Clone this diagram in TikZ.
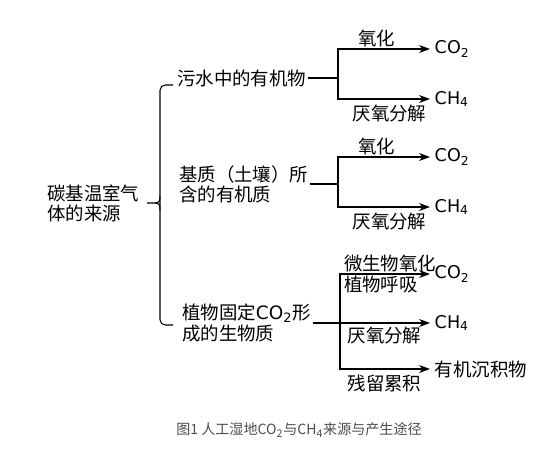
\documentclass[tikz,border=0pt]{standalone}
\usepackage{fontspec}
\setmainfont{Noto Sans CJK SC}
\newfontfamily\gasfont{DejaVu Sans}
\usetikzlibrary{arrows.meta, positioning}

\begin{document}
\begin{tikzpicture}[
        x=0.02cm, y=-0.02cm,
        src/.style={anchor=west, align=left, inner sep=1pt, font=\fontsize{10.5}{11.5}\selectfont},
        gas/.style={anchor=west, inner xsep=2.5pt, inner ysep=1pt, font=\gasfont\fontsize{10}{12}\selectfont},
        lbl/.style={inner sep=1pt, font=\fontsize{10.5}{11.5}\selectfont},
        conn/.style={line width=0.6pt},
        arrow/.style={-{Stealth[length=2.2mm, width=1.6mm]}, line width=0.6pt}
    ]
    \useasboundingbox (0,0) rectangle (559,453);

    % sources
    \node[src] (root) at (45,203) {碳基温室气\\体的来源};
    \node[src] (water) at (175,78) {污水中的有机物};
    \node[src] (soil) at (177,184) {基质（土壤）所\\含的有机质};
    \node[src] (plant) at (180,323) {植物固定{\gasfont CO\textsubscript{2}}形\\成的生物质};

    % products
    \node[gas] (co2a) at (430,49) {CO\textsubscript{2}};
    \node[gas] (ch4a) at (430,99) {CH\textsubscript{4}};
    \node[gas] (co2b) at (430,157) {CO\textsubscript{2}};
    \node[gas] (ch4b) at (430,207) {CH\textsubscript{4}};
    \node[gas] (co2c) at (430,274) {CO\textsubscript{2}};
    \node[gas] (ch4c) at (430,323) {CH\textsubscript{4}};
    \node[src, inner xsep=2.5pt] (sed) at (430,369) {有机沉积物};

    % brace
    \coordinate (tip) at (147,203);
    \coordinate (bt) at (173,85);
    \coordinate (bb) at (173,325);
    \draw[conn, rounded corners=3pt] (bt) -- (160,85) -- (160,325) -- (bb);
    \draw[conn] (tip) -- (155,203) .. controls (159,203) and (160,201) .. (160,196);
    \draw[conn] (155,203) .. controls (159,203) and (160,205) .. (160,210);

    % branches
    \coordinate (b1) at (338,78);
    \coordinate (b2) at (338,184);
    \coordinate (b3) at (340,323);

    \draw[conn] (water) -- (b1);
    \draw[arrow] (b1) |- node[lbl, above, pos=0.71, name=ox1] {氧化} (co2a);
    \draw[arrow] (b1) |- node[lbl, below, pos=0.78, yshift=-2pt, name=an1] {厌氧分解} (ch4a);

    \draw[conn] (soil) -- (b2);
    \draw[arrow] (b2) |- node[lbl, above, pos=0.71, name=ox2] {氧化} (co2b);
    \draw[arrow] (b2) |- node[lbl, below, pos=0.78, yshift=-2pt, name=an2] {厌氧分解} (ch4b);

    \draw[conn] (plant.east |- b3) -- (b3);
    \draw[arrow] (b3) |- node[lbl, above right, pos=0.5, xshift=1pt, name=mox] {微生物氧化}
        node[lbl, below right, pos=0.5, xshift=1pt, name=resp] {植物呼吸} (co2c);
    \draw[arrow] (b3) -- node[lbl, below right, pos=0, xshift=3pt, yshift=-1pt, name=an3] {厌氧分解} (ch4c);
    \draw[arrow] (b3) |- node[lbl, below right, pos=0.5, xshift=3pt, yshift=-2pt, name=acc] {残留累积} (sed);

    % caption
    \node[inner sep=1pt, text=black!70, font=\fontsize{8}{10}\selectfont] (cap) at (299,430)
        {图1 人工湿地CO\textsubscript{2}与CH\textsubscript{4}来源与产生途径};

    \end{tikzpicture}
\end{document}
